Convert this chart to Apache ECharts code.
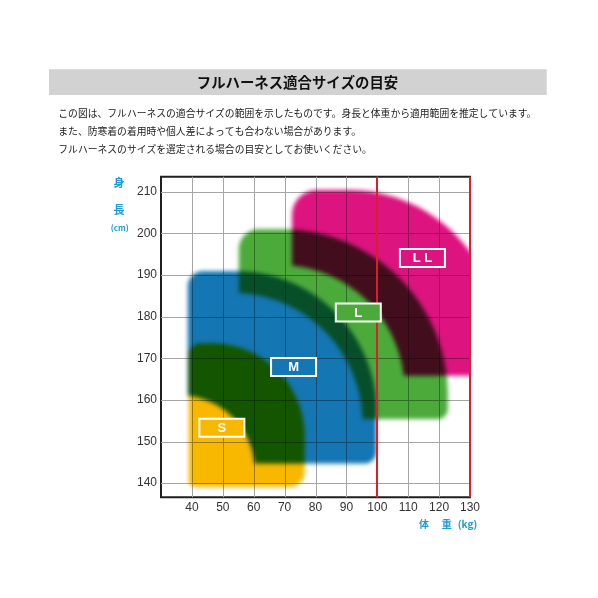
<!DOCTYPE html>
<html><head><meta charset="utf-8">
<script src="https://cdn.jsdelivr.net/npm/echarts@6/dist/echarts.min.js"></script>
<style>html,body{margin:0;padding:0;background:#fff}#c{width:598px;height:598px}</style>
</head><body><div id="c"></div>
<script>
// ---- data (kg / cm) ----
const sizeNames   = ['S', 'M', 'L', 'LL'];
const labelText   = ['S', 'M', 'L', 'L L'];
const weightMin   = [39.0, 38.7, 55.2, 72.4];
const weightMax   = [76.5, 99.7, 122.8, 139.3];
const heightMin   = [139.1, 144.7, 155.4, 165.8];
const heightMax   = [173.6, 190.9, 201.0, 210.4];
const cutWeight   = [null, 60.3, 95.2, 108.8];   // lower-left part not covered
const cutHeight   = [null, 161.1, 185.7, 192.4];
const labelWeight = [49.7, 72.9, 93.85, 114.6];
const labelHeight = [153.3, 167.9, 181.0, 194.1];
const xGrid   = [40, 50, 60, 70, 80, 90, 100, 110, 120];
const yGrid   = [140, 150, 160, 170, 180, 190, 200, 210];
const xLabels = [40, 50, 60, 70, 80, 90, 100, 110, 120, 130];
const yLabels = [140, 150, 160, 170, 180, 190, 200, 210];
const limitWeights = [100, 130];
const weightRange = [30, 130];
const heightRange = [136.6, 213.6];

// ---- styles ----
const colors = ['#F8B800', '#1476B2', '#4CAA3A', '#DD137F'];
const radius = { tl: [12, 15, 20, 25], tr: [93, 140, 166, 150], br: [15, 12, 10, 10], bl: [6, 6, 6, 6], cut: [0, 75, 130, 125] };
const SOFT = 4;        // edge softness (px)
const SHIFT = 3000;    // shape drawn off-canvas, only its soft shadow lands in the plot
const FONT_NUM = '"Liberation Sans", Arial, sans-serif';
const FONT_JP = '"Noto Sans CJK JP", sans-serif';
const AXIS_BLUE = '#1E9AD6';

function shapeItem(params, api) {
  const i = api.value(2);
  const p0 = api.coord([weightMin[i], heightMax[i]]);
  const p1 = api.coord([weightMax[i], heightMin[i]]);
  const L = p0[0], T = p0[1], R = p1[0], B = p1[1];
  const pts = [];
  function arc(cx, cy, r, a0, a1) {
    const n = Math.max(2, Math.ceil(Math.abs(a1 - a0) / 3));
    for (let k = 0; k <= n; k++) {
      const a = (a0 + (a1 - a0) * k / n) * Math.PI / 180;
      pts.push([cx + r * Math.cos(a), cy - r * Math.sin(a)]);
    }
  }
  const rtl = radius.tl[i], rtr = radius.tr[i], rbr = radius.br[i], rbl = radius.bl[i];
  arc(L + rtl, T + rtl, rtl, 180, 90);
  arc(R - rtr, T + rtr, rtr, 90, 0);
  arc(R - rbr, B - rbr, rbr, 0, -90);
  if (cutWeight[i] == null) {
    arc(L + rbl, B - rbl, rbl, -90, -180);
  } else {
    const c = api.coord([cutWeight[i], cutHeight[i]]);
    const rc = radius.cut[i];
    const ccx = c[0] - rc, ccy = c[1] + rc;
    let ab = 0;
    if (B >= ccy) pts.push([c[0], B]);
    else ab = Math.asin(Math.min(1, (ccy - B) / rc)) * 180 / Math.PI;
    let al = 90, tail = null;
    if (L <= ccx) tail = [L, c[1]];
    else al = Math.acos(Math.min(1, (L - ccx) / rc)) * 180 / Math.PI;
    arc(ccx, ccy, rc, ab, al);
    if (tail) pts.push(tail);
  }
  const shifted = pts.map(p => [p[0] + SHIFT, p[1]]);
  return {
    type: 'polygon', name: 'sizeShape', shape: { points: shifted },
    style: { fill: colors[i], shadowColor: colors[i], shadowBlur: SOFT, shadowOffsetX: -SHIFT, shadowOffsetY: 0, blend: 'multiply' }
  };
}

function vLine(color, width) {
  return function (params, api) {
    const v = api.value(0);
    const a = api.coord([v, heightRange[0]]), b = api.coord([v, heightRange[1]]);
    const x = width % 2 ? Math.round(a[0]) + 0.5 : Math.round(a[0]);
    return { type: 'line', shape: { x1: x, y1: a[1], x2: x, y2: b[1] }, style: { stroke: color, lineWidth: width } };
  };
}
function hLine(color, width) {
  return function (params, api) {
    const v = api.value(1);
    const a = api.coord([weightRange[0], v]), b = api.coord([weightRange[1], v]);
    const y = width % 2 ? Math.round(a[1]) + 0.5 : Math.round(a[1]);
    return { type: 'line', shape: { x1: a[0], y1: y, x2: b[0], y2: y }, style: { stroke: color, lineWidth: width } };
  };
}

function labelItem(params, api) {
  const i = api.value(2);
  const p = api.coord([labelWeight[i], labelHeight[i]]);
  const w = 45, h = 18;
  return {
    type: 'group', children: [
      { type: 'rect', shape: { x: p[0] - w / 2, y: p[1] - h / 2, width: w, height: h }, style: { fill: colors[i], stroke: '#fff', lineWidth: 2 } },
      { type: 'text', x: p[0], y: p[1] + 0.5, style: { text: labelText[i], fill: '#fff', font: 'bold 13px ' + FONT_NUM, align: 'center', verticalAlign: 'middle' } }
    ]
  };
}

const chart = echarts.init(document.getElementById('c'), null, { renderer: 'canvas', devicePixelRatio: 1 });
const option = {
  backgroundColor: '#ffffff',
  animation: false,
  grid: { left: 161, right: 128, top: 176.7, bottom: 100.7, show: true, borderColor: '#1f1f1f', borderWidth: 2, containLabel: false, outerBoundsMode: 'none' },
  xAxis: {
    type: 'value', min: weightRange[0], max: weightRange[1], interval: 10,
    axisLine: { show: false }, axisTick: { show: false }, splitLine: { show: false },
    axisLabel: { customValues: xLabels, color: '#333', fontSize: 12, margin: 4, fontFamily: FONT_NUM }
  },
  yAxis: {
    type: 'value', min: heightRange[0], max: heightRange[1],
    axisLine: { show: false }, axisTick: { show: false }, splitLine: { show: false },
    axisLabel: { customValues: yLabels, color: '#333', fontSize: 12, margin: 4, fontFamily: FONT_NUM }
  },
  series: [
    { type: 'custom', silent: true, z: 1, data: xGrid.map(v => [v, heightRange[0]]), renderItem: vLine('#a6a6a6', 1) },
    { type: 'custom', silent: true, z: 1, data: yGrid.map(v => [weightRange[0], v]), renderItem: hLine('#a6a6a6', 1) },
    { type: 'custom', silent: true, z: 2, clip: true, data: sizeNames.map((n, i) => [weightMin[i], heightMin[i], i]), renderItem: shapeItem },
    { type: 'custom', silent: true, z: 3, data: limitWeights.map(v => [v, heightRange[0]]), renderItem: vLine('#D7202A', 2) },
    { type: 'custom', silent: true, z: 4, data: sizeNames.map((n, i) => [labelWeight[i], labelHeight[i], i]), renderItem: labelItem }
  ],
  graphic: [
    { type: 'rect', shape: { x: 49, y: 69.3, width: 497.7, height: 25.7 }, style: { fill: '#D2D2D2' }, silent: true },
    { type: 'text', x: 297.5, y: 83, style: { text: 'フルハーネス適合サイズの目安', font: 'bold 14.4px ' + FONT_JP, fill: '#111', align: 'center', verticalAlign: 'middle' }, silent: true },
    { type: 'text', x: 58.3, y: 113.3, style: { text: 'この図は、フルハーネスの適合サイズの範囲を示したものです。身長と体重から適用範囲を推定しています。', font: '9.8px ' + FONT_JP, fill: '#222', verticalAlign: 'middle' }, silent: true },
    { type: 'text', x: 58.3, y: 131.3, style: { text: 'また、防寒着の着用時や個人差によっても合わない場合があります。', font: '9.8px ' + FONT_JP, fill: '#222', verticalAlign: 'middle' }, silent: true },
    { type: 'text', x: 58.3, y: 149.3, style: { text: 'フルハーネスのサイズを選定される場合の目安としてお使いください。', font: '9.8px ' + FONT_JP, fill: '#222', verticalAlign: 'middle' }, silent: true },
    { type: 'text', x: 119, y: 183, style: { text: '身', font: 'bold 11px ' + FONT_JP, fill: AXIS_BLUE, align: 'center', verticalAlign: 'middle' }, silent: true },
    { type: 'text', x: 119, y: 210, style: { text: '長', font: 'bold 11px ' + FONT_JP, fill: AXIS_BLUE, align: 'center', verticalAlign: 'middle' }, silent: true },
    { type: 'text', x: 119.7, y: 227.5, style: { text: '(cm)', font: 'bold 8px ' + FONT_JP, fill: AXIS_BLUE, align: 'center', verticalAlign: 'middle' }, silent: true },
    { type: 'text', x: 424, y: 524.3, style: { text: '体', font: 'bold 10px ' + FONT_JP, fill: AXIS_BLUE, align: 'center', verticalAlign: 'middle' }, silent: true },
    { type: 'text', x: 446.7, y: 524.3, style: { text: '重', font: 'bold 10px ' + FONT_JP, fill: AXIS_BLUE, align: 'center', verticalAlign: 'middle' }, silent: true },
    { type: 'text', x: 467.5, y: 524.3, style: { text: '(kg)', font: 'bold 10px ' + FONT_JP, fill: AXIS_BLUE, align: 'center', verticalAlign: 'middle' }, silent: true }
  ]
};
chart.setOption(option);

// overlapping size ranges are combined by multiplying colours
function applyMultiply() {
  const zr = chart.getZr();
  let changed = false;
  zr.storage.getDisplayList(true).forEach(el => {
    if (el.name === 'sizeShape' && el.style && el.style.blend !== 'multiply') {
      el.style.blend = 'multiply';
      el.dirty();
      changed = true;
    }
  });
  if (changed) zr.refreshImmediately();
}
applyMultiply();
chart.on('finished', applyMultiply);
</script>
</body></html>
